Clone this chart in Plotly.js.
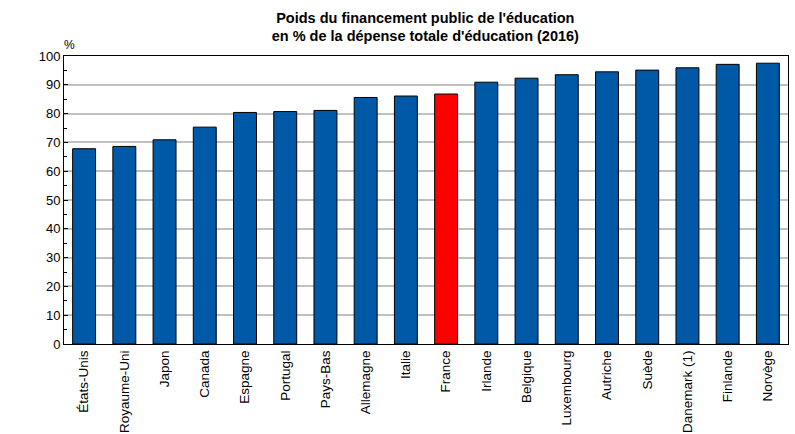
<!DOCTYPE html>
<html>
<head>
<meta charset="utf-8">
<script src="https://cdn.plot.ly/plotly-3.0.1.min.js"></script>
<style>html,body{margin:0;padding:0;background:#fff;}#chart{width:795px;height:434px;}</style>
</head>
<body>
<div id="chart"></div>
<script>
const countries = ["États-Unis","Royaume-Uni","Japon","Canada","Espagne","Portugal","Pays-Bas","Allemagne","Italie","France","Irlande","Belgique","Luxembourg","Autriche","Suède","Danemark (1)","Finlande","Norvège"];
const values = [67.8,68.6,70.9,75.3,80.4,80.7,81.1,85.6,86.1,86.8,90.9,92.3,93.5,94.5,95.1,95.9,97.1,97.5];
const highlight = "France";
const yTicks = [0,10,20,30,40,50,60,70,80,90,100];

const colors = countries.map(c => c === highlight ? "#FF0000" : "#0059A6");

const trace = {
  type: "bar",
  x: countries,
  y: values,
  marker: {color: colors, line: {color: "#000000", width: 1}},
  hoverinfo: "x+y"
};

const layout = {
  width: 795, height: 434,
  margin: {l: 64, r: 7, t: 56, b: 90},
  paper_bgcolor: "#ffffff", plot_bgcolor: "#ffffff",
  font: {family: "Liberation Sans, Arial, sans-serif", size: 12, color: "#000"},
  bargap: 0.43,
  showlegend: false,
  title: {
    text: "<b>Poids du financement public de l'éducation<br>en % de la dépense totale d'éducation (2016)</b>",
    font: {size: 14.5, color: "#000"},
    x: 0.535, xanchor: "center",
    yref: "container", y: 0.948, yanchor: "top"
  },
  xaxis: {
    type: "category",
    tickangle: -90,
    showline: true, linecolor: "#000", linewidth: 1, mirror: true,
    ticks: "", showgrid: false,
    tickfont: {size: 13.5}
  },
  yaxis: {
    range: [0, 100],
    tickvals: yTicks,
    ticktext: yTicks.map(String),
    showline: true, linecolor: "#000", linewidth: 1, mirror: true,
    ticks: "inside", ticklen: 4, tickcolor: "#000",
    showgrid: true, gridcolor: "#c0c0c0", gridwidth: 2,
    zeroline: false,
    tickfont: {size: 13},
    minor: {dtick: 5, tick0: 5, ticks: "inside", ticklen: 3, tickcolor: "#000", showgrid: false}
  },
  annotations: [{
    text: "%", xref: "paper", yref: "paper", x: 0, y: 1, xanchor: "left", yanchor: "bottom",
    xshift: -2, yshift: 2, showarrow: false, font: {size: 12}
  }]
};

Plotly.newPlot("chart", [trace], layout, {displayModeBar: false, staticPlot: true});
</script>
</body>
</html>
